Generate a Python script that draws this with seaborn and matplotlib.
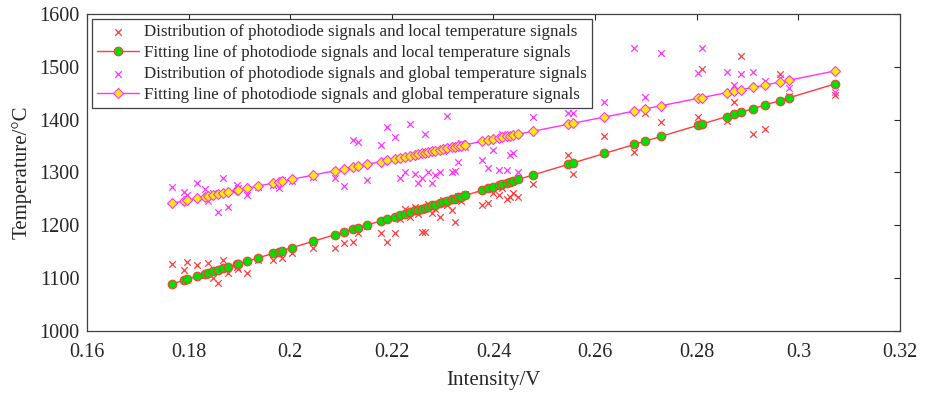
import numpy as np
import pandas as pd
import matplotlib
matplotlib.use("Agg")
import matplotlib.pyplot as plt
import seaborn as sns

# ---------------- data ----------------
intensity = [0.1767, 0.1790, 0.1796, 0.1816, 0.1832, 0.1839, 0.1849, 0.1858, 0.1868, 0.1878,
             0.1895, 0.1898, 0.1914, 0.1937, 0.1967, 0.1977, 0.1983, 0.2004, 0.2044, 0.2088,
             0.2106, 0.2123, 0.2133, 0.2152, 0.2178, 0.2190, 0.2206, 0.2216, 0.2226, 0.2236,
             0.2246, 0.2251, 0.2259, 0.2265, 0.2272, 0.2279, 0.2285, 0.2295, 0.2301, 0.2308,
             0.2318, 0.2324, 0.2331, 0.2336, 0.2344, 0.2377, 0.2390, 0.2399, 0.2410, 0.2417,
             0.2426, 0.2433, 0.2438, 0.2449, 0.2478, 0.2547, 0.2557, 0.2618, 0.2677, 0.2698,
             0.2730, 0.2803, 0.2810, 0.2859, 0.2874, 0.2887, 0.2911, 0.2934, 0.2964, 0.2982,
             0.3073]

local_temp = [1127, 1116, 1131, 1125, 1106, 1128, 1100, 1091, 1134, 1110,
              1121, 1118, 1110, 1134, 1134, 1145, 1138, 1148, 1157, 1157,
              1167, 1169, 1186, 1198, 1186, 1169, 1186, 1212, 1230, 1215,
              1235, 1222, 1188, 1188, 1240, 1223, 1230, 1216, 1248, 1238,
              1229, 1207, 1255, 1245, 1260, 1238, 1242, 1262, 1257, 1270,
              1250, 1254, 1262, 1254, 1278, 1333, 1297, 1369, 1339, 1413,
              1396, 1405, 1496, 1398, 1434, 1521, 1373, 1382, 1487, 1445,
              1447]

global_temp = [1272, 1263, 1258, 1280, 1268, 1245, 1262, 1225, 1290, 1234,
               1276, 1270, 1257, 1272, 1276, 1270, 1285, 1283, 1292, 1290,
               1275, 1362, 1357, 1286, 1352, 1386, 1367, 1290, 1301, 1392,
               1298, 1280, 1290, 1373, 1301, 1280, 1295, 1301, 1340, 1407,
               1301, 1303, 1320, 1356, 1348, 1324, 1309, 1343, 1305, 1372,
               1305, 1333, 1337, 1301, 1405, 1413, 1413, 1434, 1536, 1443,
               1527, 1489, 1536, 1490, 1465, 1487, 1490, 1473, 1479, 1460,
               1453]

local_fit = [1089.0, 1095.7, 1097.4, 1103.2, 1107.9, 1109.9, 1112.8, 1115.4, 1118.3, 1121.2,
             1126.1, 1127.0, 1131.6, 1138.3, 1147.0, 1149.9, 1151.7, 1157.8, 1169.4, 1182.1,
             1187.3, 1192.3, 1195.2, 1200.7, 1208.2, 1211.7, 1216.4, 1219.3, 1222.2, 1225.1,
             1228.0, 1229.4, 1231.7, 1233.5, 1235.5, 1237.5, 1239.3, 1242.2, 1243.9, 1245.9,
             1248.8, 1250.6, 1252.6, 1254.0, 1256.4, 1266.0, 1269.7, 1272.3, 1275.5, 1277.6,
             1280.2, 1282.2, 1283.7, 1286.8, 1295.3, 1315.3, 1318.2, 1335.9, 1353.0, 1359.1,
             1368.4, 1389.5, 1391.6, 1405.8, 1410.1, 1413.9, 1420.9, 1427.5, 1436.2, 1441.5,
             1467.9]

global_fit = [1241.7, 1246.1, 1247.3, 1251.1, 1254.2, 1255.5, 1257.4, 1259.2, 1261.1, 1263.0,
              1266.2, 1266.8, 1269.9, 1274.3, 1280.1, 1282.0, 1283.1, 1287.2, 1294.8, 1303.3,
              1306.7, 1310.0, 1311.9, 1315.5, 1320.5, 1322.8, 1325.9, 1327.8, 1329.7, 1331.7,
              1333.6, 1334.5, 1336.1, 1337.2, 1338.6, 1339.9, 1341.1, 1343.0, 1344.1, 1345.5,
              1347.4, 1348.5, 1349.9, 1350.8, 1352.4, 1358.7, 1361.2, 1362.9, 1365.0, 1366.4,
              1368.1, 1369.4, 1370.4, 1372.5, 1378.1, 1391.3, 1393.2, 1404.9, 1416.2, 1420.3,
              1426.4, 1440.4, 1441.7, 1451.1, 1454.0, 1456.5, 1461.1, 1465.5, 1471.3, 1474.7,
              1492.4]

series_labels = [
    "Distribution of photodiode signals and local temperature signals",
    "Fitting line of photodiode signals and local temperature signals",
    "Distribution of photodiode signals and global temperature signals",
    "Fitting line of photodiode signals and global temperature signals",
]

x_ticks = [0.16, 0.18, 0.20, 0.22, 0.24, 0.26, 0.28, 0.30, 0.32]
x_tick_labels = ["0.16", "0.18", "0.2", "0.22", "0.24", "0.26", "0.28", "0.3", "0.32"]
y_ticks = [1000, 1100, 1200, 1300, 1400, 1500, 1600]
y_tick_labels = ["1000", "1100", "1200", "1300", "1400", "1500", "1600"]

x_label = "Intensity/V"
y_label = "Temperature/\u00b0C"

# ---------------- style ----------------
sns.set_style("white")
plt.rcParams['font.family'] = ['Liberation Serif', 'DejaVu Serif']
text_color = '#262626'

RED = '#ff3b3b'
MAGENTA = '#ff33ff'
GREEN = '#00e000'
YELLOW = '#ffee00'

fig, ax = plt.subplots(figsize=(9.35, 3.93), dpi=100)
fig.subplots_adjust(left=0.093, right=0.9626, bottom=0.158, top=0.9644)

sns.scatterplot(x=intensity, y=local_temp, marker='x', color=RED, s=22,
                linewidth=0.9, ax=ax, label=series_labels[0], zorder=2)
sns.lineplot(x=intensity, y=local_fit, color=RED, linewidth=1.0, marker='o',
             markersize=6.2, markerfacecolor=GREEN, markeredgecolor=RED,
             markeredgewidth=0.8, estimator=None, ax=ax, label=series_labels[1], zorder=3)
sns.scatterplot(x=intensity, y=global_temp, marker='x', color=MAGENTA, s=22,
                linewidth=0.9, ax=ax, label=series_labels[2], zorder=2)
sns.lineplot(x=intensity, y=global_fit, color=MAGENTA, linewidth=1.0, marker='D',
             markersize=5.6, markerfacecolor=YELLOW, markeredgecolor=MAGENTA,
             markeredgewidth=0.8, estimator=None, ax=ax, label=series_labels[3], zorder=3)

ax.set_xlim(0.16, 0.32)
ax.set_ylim(1000, 1600)
ax.set_xticks(x_ticks)
ax.set_xticklabels(x_tick_labels)
ax.set_yticks(y_ticks)
ax.set_yticklabels(y_tick_labels)
ax.tick_params(direction='in', top=True, right=True, length=4, width=0.8,
               labelsize=14.5, colors=text_color)
ax.tick_params(axis='x', pad=9)
ax.tick_params(axis='y', pad=5.5)
for sp in ax.spines.values():
    sp.set_visible(True)
    sp.set_color('#404040')
    sp.set_linewidth(0.9)

ax.set_xlabel(x_label, fontsize=15, color=text_color, labelpad=6)
ax.set_ylabel(y_label, fontsize=15, color=text_color, labelpad=5)

leg = ax.legend(loc='upper left', bbox_to_anchor=(0.006, 0.984), borderaxespad=0,
                frameon=True, fancybox=False, edgecolor='#404040', fontsize=12.2,
                handlelength=2.5, labelspacing=0.3, borderpad=0.3, handletextpad=0.3,
                framealpha=1)
leg.get_frame().set_linewidth(0.9)
for t in leg.get_texts():
    t.set_color(text_color)

fig.savefig("out.png", dpi=100)
